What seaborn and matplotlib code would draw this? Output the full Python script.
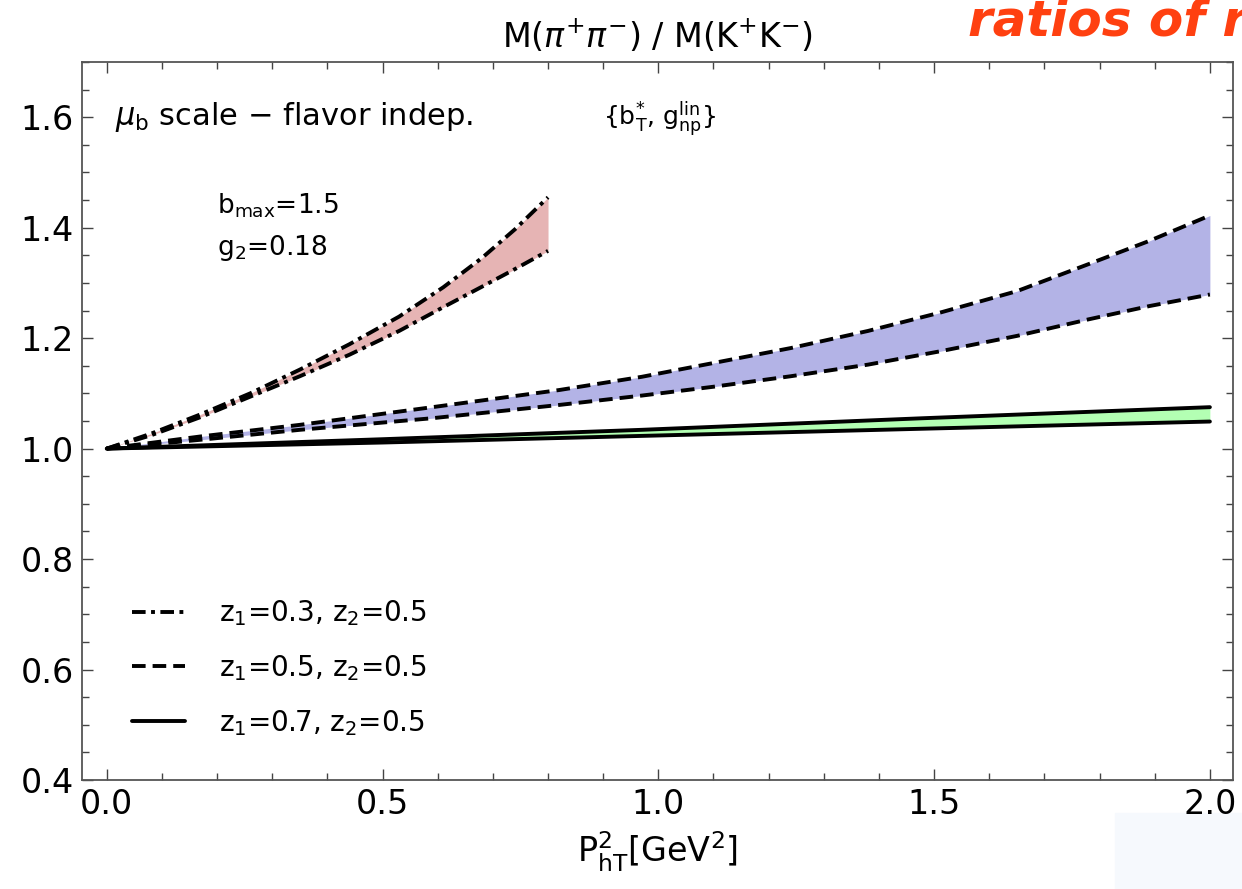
import numpy as np
import matplotlib
matplotlib.use("Agg")
import matplotlib.pyplot as plt
from matplotlib.lines import Line2D
from matplotlib.patches import Rectangle
from matplotlib.ticker import MultipleLocator
import seaborn as sns

# values
x_red = [0.0, 0.08, 0.17, 0.26, 0.35, 0.44, 0.53, 0.61, 0.68, 0.74, 0.8]
red_upper = [1.0, 1.027, 1.062, 1.100, 1.143, 1.189, 1.239, 1.292, 1.345, 1.397, 1.455]
red_lower = [1.0, 1.024, 1.057, 1.094, 1.131, 1.170, 1.213, 1.256, 1.293, 1.325, 1.358]

x_blue = [0.0, 0.17, 0.35, 0.59, 0.82, 0.97, 1.10, 1.24, 1.38, 1.51, 1.65, 1.78, 1.89, 2.0]
blue_upper = [1.0, 1.022, 1.043, 1.075, 1.106, 1.130, 1.155, 1.182, 1.213, 1.246,
              1.285, 1.334, 1.376, 1.422]
blue_lower = [1.0, 1.016, 1.034, 1.055, 1.079, 1.096, 1.112, 1.131, 1.152, 1.176,
              1.204, 1.234, 1.258, 1.279]

x_green = [0.0, 0.5, 0.97, 1.48, 2.0]
green_upper = [1.0, 1.017, 1.034, 1.055, 1.075]
green_lower = [1.0, 1.011, 1.023, 1.036, 1.049]

legend_labels = [r"z$_1$=0.3, z$_2$=0.5",
                 r"z$_1$=0.5, z$_2$=0.5",
                 r"z$_1$=0.7, z$_2$=0.5"]

sns.set_theme(style="white")
plt.rcParams["font.family"] = ["DejaVu Sans"]
plt.rcParams["mathtext.fontset"] = "dejavusans"
plt.rcParams["text.color"] = "black"
plt.rcParams["axes.labelcolor"] = "black"

fig = plt.figure(figsize=(12.42, 8.89), dpi=100)
ax = fig.add_axes([0.066, 0.1226, 0.9268, 0.8077])

lw = 2.8
dashdot = (0, (3.5, 1.4, 1.0, 1.4))
dashed = (0, (3.5, 1.8))

# bands
ax.fill_between(x_red, red_lower, red_upper, color="#e6b4b4", lw=0)
ax.fill_between(x_blue, blue_lower, blue_upper, color="#b3b3e6", lw=0)
ax.fill_between(x_green, green_lower, green_upper, color="#b3ffb3", lw=0)

for xs, ys, ls in [(x_red, red_upper, dashdot), (x_red, red_lower, dashdot),
                   (x_blue, blue_upper, dashed), (x_blue, blue_lower, dashed),
                   (x_green, green_upper, "-"), (x_green, green_lower, "-")]:
    sns.lineplot(x=xs, y=ys, ax=ax, color="black", lw=lw, linestyle=ls,
                 sort=False, estimator=None)

ax.set_xlim(-0.045, 2.042)
ax.set_ylim(0.4, 1.7)

ax.xaxis.set_major_locator(MultipleLocator(0.5))
ax.xaxis.set_minor_locator(MultipleLocator(0.1))
ax.yaxis.set_major_locator(MultipleLocator(0.2))
ax.yaxis.set_minor_locator(MultipleLocator(0.05))
ax.set_xticks([0, 0.5, 1.0, 1.5, 2.0])
ax.set_xticklabels(["0.0", "0.5", "1.0", "1.5", "2.0"])
ax.set_yticks([0.4, 0.6, 0.8, 1.0, 1.2, 1.4, 1.6])
ax.set_yticklabels(["0.4", "0.6", "0.8", "1.0", "1.2", "1.4", "1.6"])
ax.tick_params(which="both", direction="in", top=True, right=True,
               bottom=True, left=True, color="#444444", width=1.0,
               labelsize=24, pad=6, labelcolor="black")
ax.tick_params(which="major", length=8)
ax.tick_params(which="minor", length=5)
for sp in ax.spines.values():
    sp.set_color("#555555")
    sp.set_linewidth(1.3)

ax.set_title(r"M($\pi^{+}\pi^{-}$) / M(K$^{+}$K$^{-}$)", fontsize=24, pad=10)
ax.set_xlabel(r"P$^2_{\rm hT}$[GeV$^2$]", fontsize=24, labelpad=6)

ax.text(0.015, 1.6, r"$\mu_{\rm b}$ scale − flavor indep.", fontsize=22,
        va="center", ha="left")
ax.text(0.9, 1.597, r"{b$^{*}_{\rm T}$, g$^{\rm lin}_{\rm np}$}", fontsize=18,
        va="center", ha="left")
ax.text(0.2, 1.44, r"b$_{\rm max}$=1.5", fontsize=19, va="center", ha="left")
ax.text(0.2, 1.364, r"g$_2$=0.18", fontsize=19, va="center", ha="left")

handles = [Line2D([], [], color="black", lw=lw, linestyle=dashdot),
           Line2D([], [], color="black", lw=lw, linestyle=dashed),
           Line2D([], [], color="black", lw=lw, linestyle="-")]
ax.legend(handles, legend_labels, loc="center left",
          bbox_to_anchor=(0.0434, 0.156), frameon=False, fontsize=20,
          handlelength=1.9, handletextpad=1.25, labelspacing=0.9,
          borderpad=0, borderaxespad=0)

# red heading, cut off at the top right as in the slide screenshot
fig.text(968 / 1242, 1 - 36 / 889, "ratios of r", color="#ff4010",
         fontsize=36, fontweight="bold", fontstyle="italic",
         ha="left", va="baseline")

# faint screenshot artifact at the bottom right
fig.patches.append(Rectangle((1115 / 1242, 0), 127 / 1242, 76 / 889,
                             transform=fig.transFigure, color="#f6f9fd",
                             zorder=-1))

fig.savefig("out.png", dpi=100)
